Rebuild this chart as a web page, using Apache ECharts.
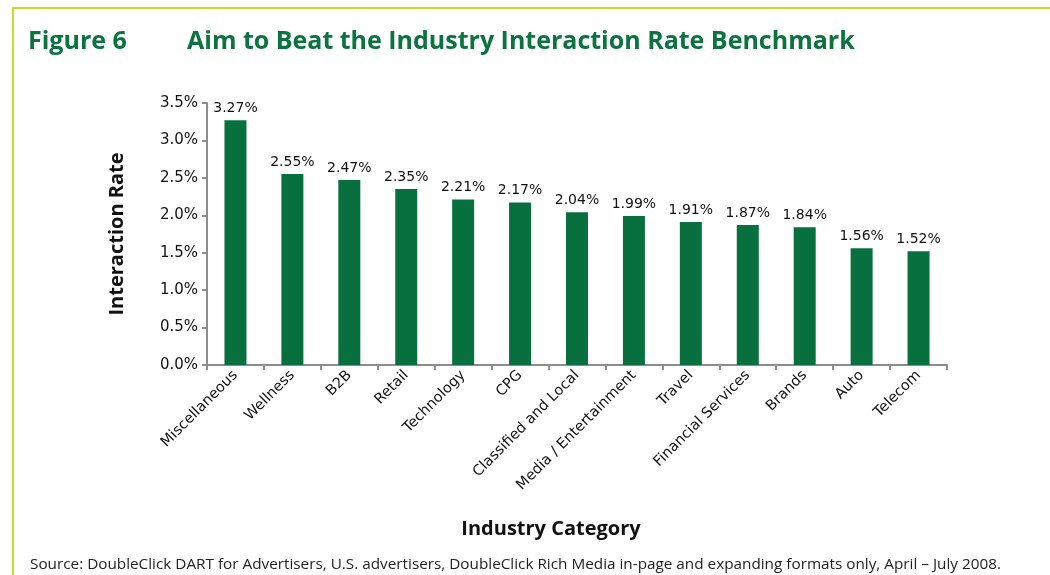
<!DOCTYPE html>
<html>
<head>
<meta charset="utf-8">
<script src="https://cdn.jsdelivr.net/npm/echarts@6/dist/echarts.min.js"></script>
<style>
  html, body { margin: 0; padding: 0; background: #fff; }
  #chart { width: 1050px; height: 575px; }
</style>
</head>
<body>
<div id="chart"></div>
<script>
const categories = ['Miscellaneous', 'Wellness', 'B2B', 'Retail', 'Technology', 'CPG',
    'Classified and Local', 'Media / Entertainment', 'Travel', 'Financial Services',
    'Brands', 'Auto', 'Telecom'];
const rates = [3.27, 2.55, 2.47, 2.35, 2.21, 2.17, 2.04, 1.99, 1.91, 1.87, 1.84, 1.56, 1.52];

const barColor = '#08703e';
const titleColor = '#0b7340';
const borderColor = '#c9dd2e';
const axisColor = '#8c8c8c';
const labelFont = 'DejaVu Sans';

const chart = echarts.init(document.getElementById('chart'));

chart.setOption({
    backgroundColor: '#fff',
    animation: false,
    graphic: [
        { type: 'rect', shape: { x: 12, y: 7, width: 1050, height: 2 }, style: { fill: borderColor } },
        { type: 'rect', shape: { x: 12, y: 7, width: 2, height: 580 }, style: { fill: borderColor } },
        {
            type: 'text', left: 28, top: 29,
            style: { text: 'Figure 6', fill: titleColor, font: 'bold 25px "Open Sans"' }
        },
        {
            type: 'text', left: 187, top: 29,
            style: { text: 'Aim to Beat the Industry Interaction Rate Benchmark', fill: titleColor, font: 'bold 25px "Open Sans"' }
        },
        {
            // x-axis title sits left of the plot centre in the original
            type: 'text', x: 551, y: 529,
            style: {
                text: 'Industry Category', fill: '#111', font: 'bold 20px "Open Sans"',
                align: 'center', verticalAlign: 'middle'
            }
        },
        {
            type: 'text', left: 30, top: 557,
            style: {
                text: 'Source: DoubleClick DART for Advertisers, U.S. advertisers, DoubleClick Rich Media in-page and expanding formats only, April \u2013 July 2008.',
                fill: '#222', font: '15.3px "Open Sans"'
            }
        }
    ],
    grid: { left: 207, right: 103, top: 103, bottom: 210 },
    xAxis: {
        type: 'category',
        data: categories,
        axisLine: { lineStyle: { color: axisColor, width: 2 } },
        axisTick: { show: true, length: 5, lineStyle: { color: axisColor, width: 2 } },
        axisLabel: { rotate: 45, margin: 8, fontFamily: labelFont, fontSize: 14.5, color: '#111', interval: 0 }
    },
    yAxis: {
        type: 'value',
        min: 0,
        max: 3.5,
        interval: 0.5,
        name: 'Interaction Rate',
        nameLocation: 'middle',
        nameGap: 80,
        nameTextStyle: { fontFamily: 'Open Sans', fontWeight: 'bold', fontSize: 20, color: '#111' },
        axisLine: { show: true, lineStyle: { color: axisColor, width: 2 } },
        axisTick: { show: true, length: 5, lineStyle: { color: axisColor, width: 2 } },
        splitLine: { show: false },
        axisLabel: {
            margin: 9, fontFamily: labelFont, fontSize: 15, color: '#111',
            formatter: v => v.toFixed(1) + '%'
        }
    },
    series: [{
        type: 'bar',
        data: rates,
        barWidth: 22,
        itemStyle: { color: barColor },
        label: {
            show: true, position: 'top', distance: 5,
            fontFamily: labelFont, fontSize: 14, color: '#111',
            formatter: p => p.value.toFixed(2) + '%'
        }
    }]
});
</script>
</body>
</html>
